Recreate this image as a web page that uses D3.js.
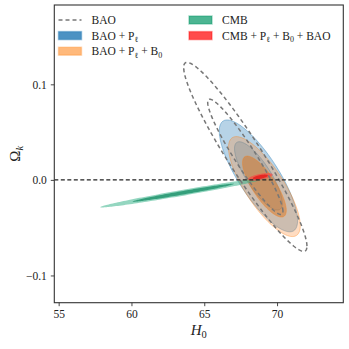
<!DOCTYPE html>
<html>
<head>
<meta charset="utf-8">
<script src="https://cdn.jsdelivr.net/npm/d3@7"></script>
<style>
  body { margin: 0; background: #fff; }
  text { font-family: "Liberation Serif", "DejaVu Serif", serif; fill: #222; }
</style>
</head>
<body>
<svg id="chart"></svg>
<script>
var width = 349;
var height = 349;
var margin = {top: 5, right: 5.7, bottom: 46.3, left: 54.3};

// x: H0, y: Omega_k
var xDomain = [54.7, 74.55];
var yDomain = [-0.1285, 0.183];
var xTicks = [55, 60, 65, 70];
var yTicks = [-0.1, 0.0, 0.1];

// contour levels (95% and 68% for 2D gaussian)
var levels = [2.49, 1.52];

// gaussian summaries: [H0, Omega_k, sigma H0, sigma Omega_k, corr]
var baoFit = [67.82, 0.0241, 1.70, 0.0397, -0.945];
var baoPlFit = [68.72, 0.0042, 1.08, 0.0235, -0.80];
var baoPlB0Fit = [69.13, -0.0070, 0.99, 0.0210, -0.78];
var cmbFit = [63.56, -0.0134, 2.29, 0.0062, 0.98];
var allFit = [68.85, 0.0031, 0.34, 0.0016, 0.60];

var svg = d3.select("#chart")
    .attr("width", width)
    .attr("height", height);

var xScale = d3.scaleLinear()
    .domain(xDomain)
    .range([margin.left, width - margin.right]);

var yScale = d3.scaleLinear()
    .domain(yDomain)
    .range([height - margin.bottom, margin.top]);

function ellipse(fit, k) {
  return d3.range(0, 2 * Math.PI, Math.PI / 90).map(t => [
    fit[0] + k * fit[2] * Math.cos(t),
    fit[1] + k * fit[3] * (fit[4] * Math.cos(t) + Math.sqrt(1 - fit[4] * fit[4]) * Math.sin(t))
  ]);
}

var line = d3.line()
    .x(d => xScale(d[0]))
    .y(d => yScale(d[1]))
    .curve(d3.curveLinearClosed);

svg.append("clipPath").attr("id", "clip")
  .append("rect")
    .attr("x", margin.left).attr("y", margin.top)
    .attr("width", width - margin.left - margin.right)
    .attr("height", height - margin.top - margin.bottom);

var plot = svg.append("g").attr("clip-path", "url(#clip)");

function filled(fit, fills, edge) {
  levels.forEach((k, i) => {
    plot.append("path")
        .attr("d", line(ellipse(fit, k)))
        .attr("fill", fills[i])
        .attr("stroke", edge)
        .attr("stroke-width", 0.8);
  });
}

filled(baoPlFit, ["rgba(31,119,180,0.32)", "rgba(31,119,180,0.25)"], "rgba(31,119,180,0.5)");
filled(baoPlB0Fit, ["rgba(255,140,50,0.30)", "rgba(220,110,20,0.45)"], "rgba(255,127,14,0.45)");
filled(cmbFit, ["rgba(60,180,140,0.55)", "rgba(20,140,100,0.75)"], "none");
filled(allFit, ["rgba(255,60,60,0.6)", "rgba(230,20,20,0.75)"], "none");

levels.forEach(k => {
  plot.append("path")
      .attr("d", line(ellipse(baoFit, k)))
      .attr("fill", "none")
      .attr("stroke", "#777")
      .attr("stroke-width", 1.5)
      .attr("stroke-dasharray", "4,3");
});

// Omega_k = 0
plot.append("line")
    .attr("x1", margin.left).attr("x2", width - margin.right)
    .attr("y1", yScale(0)).attr("y2", yScale(0))
    .attr("stroke", "#222")
    .attr("stroke-width", 1.2)
    .attr("stroke-dasharray", "4,2.5");

// axes
var xAxis = svg.append("g")
    .attr("transform", "translate(0," + (height - margin.bottom) + ")")
    .call(d3.axisBottom(xScale).tickValues(xTicks).tickSize(3.5).tickSizeOuter(0).tickPadding(4));

var yAxis = svg.append("g")
    .attr("transform", "translate(" + margin.left + ",0)")
    .call(d3.axisLeft(yScale).tickValues(yTicks).tickSize(3.5).tickSizeOuter(0).tickPadding(4)
      .tickFormat(d => d3.format(".1f")(d).replace("-", "\u2212")));

[xAxis, yAxis].forEach(a => {
  a.selectAll("text").attr("font-size", 11.5).attr("fill", "#333")
      .style("font-family", "Liberation Serif, serif");
  a.select(".domain").remove();
  a.selectAll("line").attr("stroke", "#333").attr("stroke-width", 0.9);
});

svg.append("rect")
    .attr("x", margin.left).attr("y", margin.top)
    .attr("width", width - margin.left - margin.right)
    .attr("height", height - margin.top - margin.bottom)
    .attr("fill", "none")
    .attr("stroke", "#333")
    .attr("stroke-width", 1.1);

// axis labels
var xl = svg.append("text")
    .attr("x", (margin.left + width - margin.right) / 2)
    .attr("y", 335)
    .attr("text-anchor", "middle")
    .attr("font-size", 15);
xl.append("tspan").attr("font-style", "italic").text("H");
xl.append("tspan").attr("font-size", 10.5).attr("dy", 3).text("0");

var yl = svg.append("text")
    .attr("transform", "translate(20," + ((margin.top + height - margin.bottom) / 2) + ") rotate(-90)")
    .attr("text-anchor", "middle")
    .attr("font-size", 15);
yl.append("tspan").text("\u03A9");
yl.append("tspan").attr("font-size", 10.5).attr("font-style", "italic").attr("dy", 3).text("k");

// legend
var legendNames = [
  [["BAO", ""]],
  [["BAO + P", ""], ["\u2113", "sub"]],
  [["BAO + P", ""], ["\u2113", "sub"], [" + B", ""], ["0", "sub"]],
  [["CMB", ""]],
  [["CMB + P", ""], ["\u2113", "sub"], [" + B", ""], ["0", "sub"], [" + BAO", ""]]
];
var legendColors = ["#777", "rgba(31,119,180,0.8)", "rgba(255,127,14,0.55)", "rgba(0,150,100,0.7)", "rgba(255,0,0,0.7)"];
var legendCol = [0, 0, 0, 1, 1];
var legendRow = [0, 1, 2, 0, 1];

legendNames.forEach((name, i) => {
  var x0 = legendCol[i] ? 189 : 58.5;
  var y0 = 20 + legendRow[i] * 15.6;
  if (i === 0) {
    svg.append("line")
        .attr("x1", x0).attr("x2", x0 + 23)
        .attr("y1", y0).attr("y2", y0)
        .attr("stroke", legendColors[i])
        .attr("stroke-width", 1.5)
        .attr("stroke-dasharray", "4,3");
  } else {
    svg.append("rect")
        .attr("x", x0).attr("y", y0 - 4)
        .attr("width", 23).attr("height", 8)
        .attr("fill", legendColors[i])
        .attr("stroke", legendColors[i])
        .attr("stroke-opacity", 0.5)
        .attr("stroke-width", 1.5);
  }
  var t = svg.append("text")
      .attr("x", x0 + 33)
      .attr("y", y0 + 4)
      .attr("font-size", 11.5);
  name.forEach((seg, j) => {
    if (seg[1] === "sub") {
      t.append("tspan").attr("font-size", 8).attr("dy", 2.5).text(seg[0]);
    } else {
      t.append("tspan").attr("dy", j > 0 ? -2.5 : 0).text(seg[0]);
    }
  });
});
</script>
</body>
</html>
